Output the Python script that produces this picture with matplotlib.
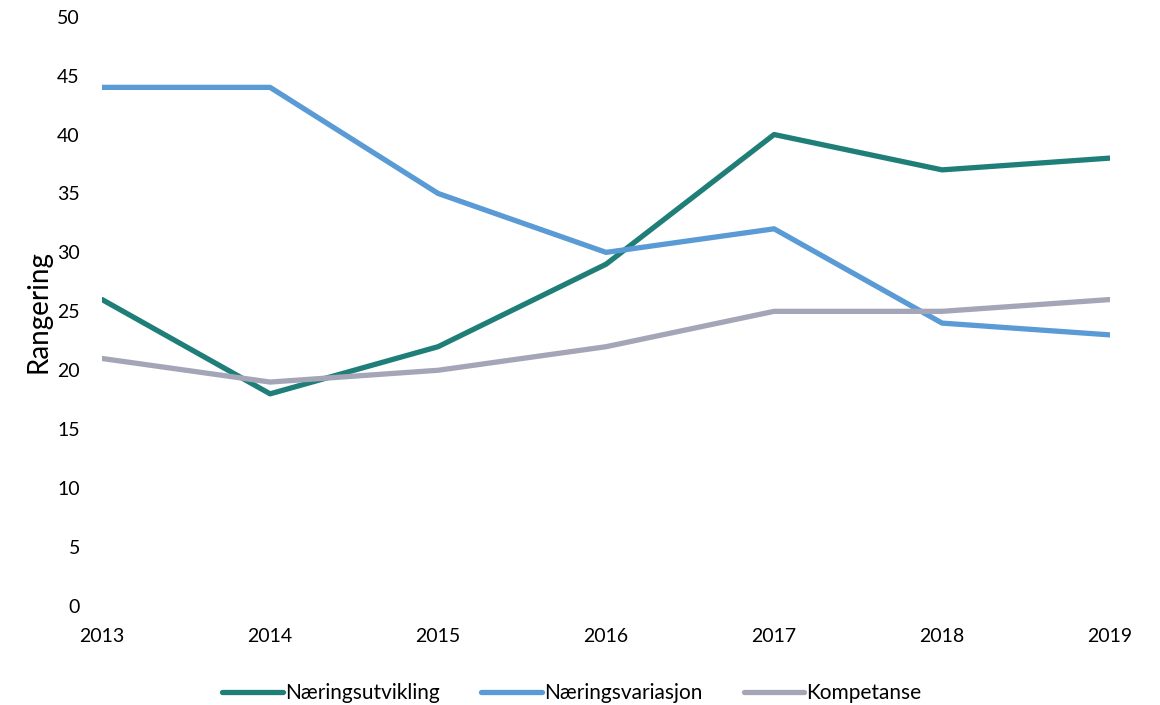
import numpy as np
import matplotlib.pyplot as plt

plt.rcParams['font.family'] = ['Lato', 'DejaVu Sans']

years = [2013, 2014, 2015, 2016, 2017, 2018, 2019]
naeringsutvikling = [26, 18, 22, 29, 40, 37, 38]
naeringsvariasjon = [44, 44, 35, 30, 32, 24, 23]
kompetanse = [21, 19, 20, 22, 25, 25, 26]

fig = plt.figure(figsize=(11.6, 7.05), dpi=100)
ax = fig.add_axes([0.088, 0.1404, 0.869, 0.836])

lw = 3.8
ax.plot(years, naeringsutvikling, color='#1F7F78', lw=lw, label='Næringsutvikling', solid_capstyle='round')
ax.plot(years, naeringsvariasjon, color='#5B9BD5', lw=lw, label='Næringsvariasjon', solid_capstyle='round')
ax.plot(years, kompetanse, color='#A5A5B8', lw=lw, label='Kompetanse', solid_capstyle='round')

ax.set_xlim(2013, 2019)
ax.set_ylim(0, 50)
ax.set_yticks(range(0, 51, 5))
ax.set_xticks(years)
for s in ax.spines.values():
    s.set_visible(False)
ax.tick_params(length=0, labelsize=14)
ax.tick_params(axis='x', pad=16)
ax.tick_params(axis='y', pad=16)
ax.set_ylabel('Rangering', fontsize=20, labelpad=4)

fig.legend(loc='upper center', bbox_to_anchor=(0.493, 0.043), ncol=3, frameon=False,
           fontsize=15, handlelength=2.9, handletextpad=0.1, columnspacing=2.0,
           borderaxespad=0)

plt.savefig('out.png', dpi=100)
